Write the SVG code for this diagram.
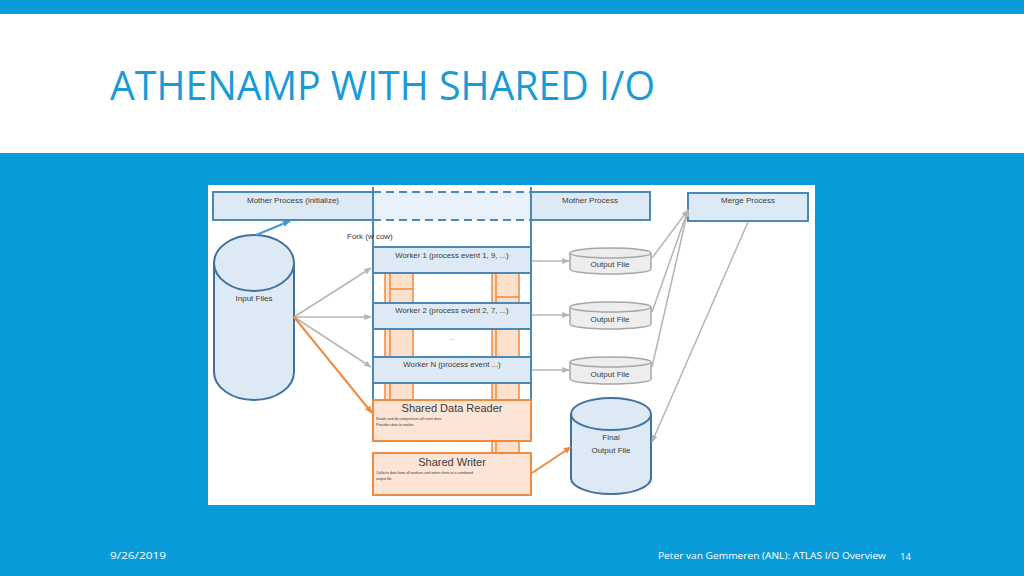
<svg xmlns="http://www.w3.org/2000/svg" width="1024" height="576" viewBox="0 0 1024 576">
<defs>
<style>
.t{font-family:"Liberation Sans",Arial,sans-serif;fill:#3A3A3A}
.bx{fill:#DDEAF6;stroke:#4A88B8;stroke-width:2}
.of{fill:#EDEDED;stroke:#A6A6A6;stroke-width:1.5}
.cy{fill:#DDEAF6;stroke:#41719C;stroke-width:2}
.or{fill:#FCE4D6;stroke:#F08A3E;stroke-width:2}
.ob{fill:#FBE0CC;stroke:#F08A3E;stroke-width:1.5}
.ga{stroke:#B5B5B5;stroke-width:1.5;fill:none;marker-end:url(#ag)}
.oa{stroke:#F08A3E;stroke-width:2;fill:none;marker-end:url(#ao)}
.ft{font-family:"Open Sans","Liberation Sans",sans-serif;fill:#FFFFFF;font-size:9.5px}
</style>
<marker id="ag" viewBox="0 0 10 10" refX="9" refY="5" markerWidth="5" markerHeight="5" orient="auto"><path d="M0,1 L10,5 L0,9 z" fill="#B5B5B5"/></marker>
<marker id="ao" viewBox="0 0 10 10" refX="9" refY="5" markerWidth="4" markerHeight="4" orient="auto"><path d="M0,1 L10,5 L0,9 z" fill="#F08A3E"/></marker>
<marker id="ab" viewBox="0 0 10 10" refX="9" refY="5" markerWidth="4" markerHeight="4" orient="auto"><path d="M0,1 L10,5 L0,9 z" fill="#4A9AD0"/></marker>
</defs>

<rect x="0" y="0" width="1024" height="576" fill="#0A9BDB"/>
<rect x="0" y="14" width="1024" height="139" fill="#FFFFFF"/>
<text x="110" y="100" font-family="'Open Sans','Liberation Sans',sans-serif" font-size="40" fill="#1A9AD7" textLength="545" lengthAdjust="spacingAndGlyphs">ATHENAMP WITH SHARED I/O</text>

<rect x="208" y="185" width="607" height="320" fill="#FFFFFF"/>

<g id="orange-bars">
<rect class="ob" x="385" y="273" width="28" height="127"/>
<line x1="390" y1="273" x2="390" y2="400" stroke="#F08A3E" stroke-width="1.5"/>
<line x1="390" y1="289" x2="413" y2="289" stroke="#F08A3E" stroke-width="1.5"/>
<rect class="ob" x="492" y="273" width="27" height="180"/>
<line x1="496" y1="273" x2="496" y2="453" stroke="#F08A3E" stroke-width="1.5"/>
<line x1="496" y1="297" x2="519" y2="297" stroke="#F08A3E" stroke-width="1.5"/>
</g>

<g id="mother-init">
<rect class="bx" x="213" y="192" width="160" height="28"/>
<text class="t" x="293" y="203" font-size="8" text-anchor="middle">Mother Process (initialize)</text>
</g>
<g id="mother-dashed">
<rect x="373" y="192" width="158" height="28" fill="#E8F1FA"/>
<line x1="373" y1="192" x2="531" y2="192" stroke="#4A88B8" stroke-width="2" stroke-dasharray="8,5"/>
<line x1="373" y1="220" x2="531" y2="220" stroke="#4A88B8" stroke-width="2" stroke-dasharray="8,5"/>
</g>
<g id="column">
<line x1="373" y1="187" x2="373" y2="400" stroke="#4A88B8" stroke-width="2"/>
<line x1="531" y1="187" x2="531" y2="400" stroke="#4A88B8" stroke-width="2"/>
</g>
<g id="mother">
<rect class="bx" x="531" y="192" width="119" height="28"/>
<text class="t" x="590" y="203" font-size="8" text-anchor="middle">Mother Process</text>
</g>
<g id="merge">
<rect class="bx" x="688" y="193" width="120" height="28"/>
<text class="t" x="748" y="203" font-size="8" text-anchor="middle">Merge Process</text>
</g>

<g id="fork">
<line x1="373" y1="247" x2="531" y2="247" stroke="#4A88B8" stroke-width="2"/>
<text class="t" x="347" y="239" font-size="8">Fork (w cow)</text>
</g>

<g id="worker1">
<rect class="bx" x="373" y="247" width="158" height="26"/>
<text class="t" x="452" y="258" font-size="7.8" text-anchor="middle">Worker 1 (process event 1, 9, ...)</text>
</g>
<g id="worker2">
<rect class="bx" x="373" y="303" width="158" height="26"/>
<text class="t" x="452" y="313" font-size="7.8" text-anchor="middle">Worker 2 (process event 2, 7, ...)</text>
</g>
<text class="t" x="452" y="340" font-size="6" text-anchor="middle">...</text>
<g id="workerN">
<rect class="bx" x="373" y="357" width="158" height="26"/>
<text class="t" x="452" y="367" font-size="7.8" text-anchor="middle">Worker N (process event ...)</text>
</g>

<g id="reader">
<rect class="or" x="373" y="400" width="158" height="41"/>
<text class="t" x="452" y="412" font-size="11" text-anchor="middle">Shared Data Reader</text>
<text class="t" x="376" y="420" font-size="3.6">Reads and de-compresses all event data</text>
<text class="t" x="376" y="426" font-size="3.6">Provides data to worker</text>
</g>
<g id="writer">
<rect class="or" x="373" y="453" width="158" height="42"/>
<text class="t" x="452" y="466" font-size="11" text-anchor="middle">Shared Writer</text>
<text class="t" x="376" y="474" font-size="3.6">Collects data from all workers and writes them to a combined</text>
<text class="t" x="376" y="480" font-size="3.6">output file</text>
</g>

<g id="input-files">
<path class="cy" d="M214,263 A40,28 0 0 1 294,263 L294,372 A40,28 0 0 1 214,372 Z"/>
<path d="M214,263 A40,28 0 0 0 294,263" fill="none" stroke="#41719C" stroke-width="2"/>
<text class="t" x="254" y="301" font-size="8" text-anchor="middle">Input Files</text>
</g>

<g id="output1">
<path class="of" d="M570,253 A40,5 0 0 1 651,253 L651,269 A40,5 0 0 1 570,269 Z"/>
<path d="M570,253 A40,5 0 0 0 651,253" fill="none" stroke="#A6A6A6" stroke-width="1.5"/>
<text class="t" x="610" y="267" font-size="8" text-anchor="middle">Output File</text>
</g>
<g id="output2">
<path class="of" d="M570,307 A40,5 0 0 1 651,307 L651,324 A40,5 0 0 1 570,324 Z"/>
<path d="M570,307 A40,5 0 0 0 651,307" fill="none" stroke="#A6A6A6" stroke-width="1.5"/>
<text class="t" x="610" y="322" font-size="8" text-anchor="middle">Output File</text>
</g>
<g id="output3">
<path class="of" d="M570,362 A40,5 0 0 1 651,362 L651,379 A40,5 0 0 1 570,379 Z"/>
<path d="M570,362 A40,5 0 0 0 651,362" fill="none" stroke="#A6A6A6" stroke-width="1.5"/>
<text class="t" x="610" y="377" font-size="8" text-anchor="middle">Output File</text>
</g>

<g id="final-output">
<path class="cy" d="M571,414 A40,16 0 0 1 651,414 L651,478 A40,16 0 0 1 571,478 Z"/>
<path d="M571,414 A40,16 0 0 0 651,414" fill="none" stroke="#41719C" stroke-width="2"/>
<text class="t" x="611" y="440" font-size="8" text-anchor="middle">Final</text>
<text class="t" x="611" y="453" font-size="8" text-anchor="middle">Output File</text>
</g>

<g id="connectors">
<line x1="256" y1="235" x2="290" y2="221" stroke="#4A9AD0" stroke-width="2" marker-end="url(#ab)"/>
<line class="ga" x1="294" y1="317" x2="371" y2="268"/>
<line class="ga" x1="294" y1="317" x2="371" y2="317"/>
<line class="ga" x1="294" y1="317" x2="371" y2="367"/>
<line class="oa" x1="294" y1="317" x2="372" y2="413"/>
<line class="ga" x1="532" y1="261" x2="569" y2="261"/>
<line class="ga" x1="532" y1="315" x2="569" y2="315"/>
<line class="ga" x1="532" y1="370" x2="569" y2="370"/>
<line class="ga" x1="652" y1="258" x2="688" y2="210"/>
<line class="ga" x1="652" y1="312" x2="688" y2="210"/>
<line class="ga" x1="652" y1="367" x2="688" y2="210"/>
<line class="ga" x1="748" y1="222" x2="652" y2="442"/>
<line class="oa" x1="532" y1="473" x2="571" y2="447"/>
</g>

<text class="ft" x="110" y="559" textLength="56" lengthAdjust="spacingAndGlyphs">9/26/2019</text>
<text class="ft" x="658" y="559" textLength="228" lengthAdjust="spacingAndGlyphs">Peter van Gemmeren (ANL): ATLAS I/O Overview</text>
<text class="ft" x="900" y="560">14</text>
</svg>
